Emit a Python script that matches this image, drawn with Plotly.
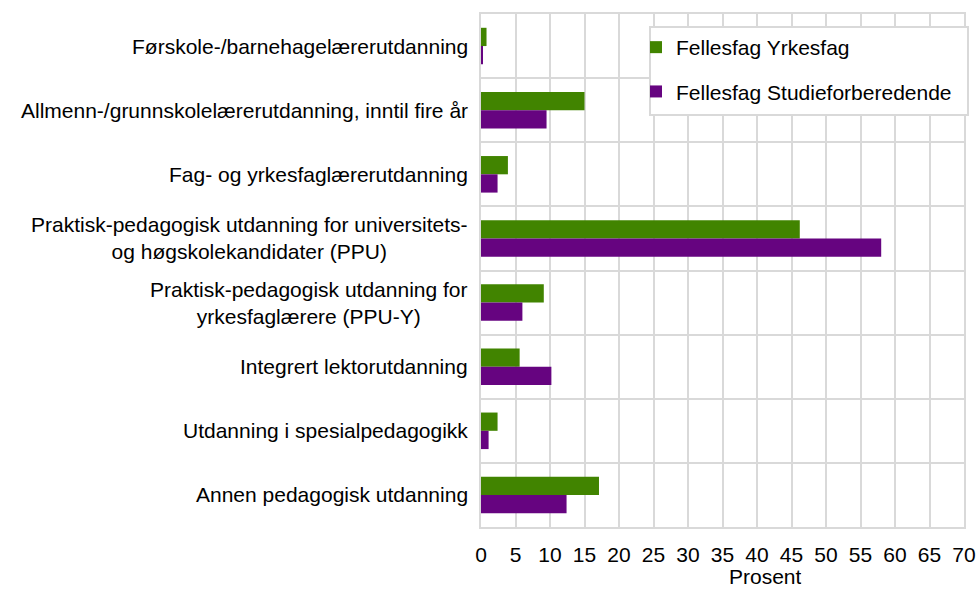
import plotly.graph_objects as go

categories = [
    "Førskole-/barnehagelærerutdanning",
    "Allmenn-/grunnskolelærerutdanning, inntil fire år",
    "Fag- og yrkesfaglærerutdanning",
    "Praktisk-pedagogisk utdanning for universitets-<br>og høgskolekandidater (PPU)",
    "Praktisk-pedagogisk utdanning for<br>yrkesfaglærere (PPU-Y)",
    "Integrert lektorutdanning",
    "Utdanning i spesialpedagogikk",
    "Annen pedagogisk utdanning",
]
yrkesfag = [0.8, 15.0, 3.9, 46.2, 9.1, 5.6, 2.4, 17.1]
studie = [0.2, 9.5, 2.4, 58.0, 6.0, 10.2, 1.1, 12.4]
x_ticks = list(range(0, 75, 5))

FONT = "Liberation Sans, Arial, sans-serif"
GRID = "#d9d9d9"
FS = 21

W, H = 979, 589
L, R, T, B = 481, 964, 14, 527
pw, ph = R - L, B - T


def px_x(v):
    return (v - L) / pw


def px_y(v):
    return (B - v) / ph


fig = go.Figure()
fig.add_trace(go.Bar(y=list(range(len(categories))), x=yrkesfag, orientation="h",
                     name="Fellesfag Yrkesfag", marker=dict(color="#418400", line=dict(width=0)),
                     legendgroup="a"))
fig.add_trace(go.Bar(y=list(range(len(categories))), x=studie, orientation="h",
                     name="Fellesfag Studieforberedende", marker=dict(color="#660480", line=dict(width=0)),
                     legendgroup="b"))

for i, c in enumerate(categories):
    fig.add_annotation(x=0, y=i, xref="paper", yref="y", text=c, showarrow=False,
                       xanchor="right", yanchor="middle", align="center", xshift=-11,
                       font=dict(family=FONT, size=FS, color="#000000"))

fig.add_annotation(x=px_x(765), y=px_y(588), xref="paper", yref="paper", text="Prosent",
                   showarrow=False, xanchor="center", yanchor="bottom", height=20, valign="middle",
                   font=dict(family=FONT, size=FS, color="#000000"))

# legend frame
fig.add_shape(type="rect", xref="paper", yref="paper",
              x0=px_x(650), x1=px_x(968), y0=px_y(115), y1=px_y(27),
              fillcolor="white", line=dict(color=GRID, width=2), layer="above")

fig.update_layout(
    width=W, height=H,
    margin=dict(l=L, r=W - R, t=T, b=H - B, autoexpand=False),
    paper_bgcolor="white", plot_bgcolor="white",
    barmode="group", bargap=0.43, bargroupgap=0,
    font=dict(family=FONT, size=FS, color="#000000"),
    showlegend=True,
    legend=dict(x=px_x(636), y=px_y(27), xanchor="left", yanchor="top",
                bgcolor="rgba(0,0,0,0)", borderwidth=0,
                font=dict(family=FONT, size=FS, color="#000000"),
                traceorder="grouped", tracegroupgap=14),
    xaxis=dict(range=[0, 70], tickvals=x_ticks, ticktext=[str(v) for v in x_ticks],
               showgrid=True, gridcolor=GRID, gridwidth=2, zeroline=False,
               showline=True, linecolor=GRID, linewidth=2, mirror=True,
               ticks="", ticklabelstandoff=8,
               tickfont=dict(family=FONT, size=FS, color="#000000")),
    yaxis=dict(type="linear", range=[7.5, -0.5], tickvals=[i - 0.5 for i in range(len(categories) + 1)],
               showticklabels=False, showgrid=True, gridcolor=GRID, gridwidth=2, zeroline=False,
               showline=True, linecolor=GRID, linewidth=2, mirror=True, ticks=""),
)

fig.write_html("out.html", config={"displayModeBar": False},
               post_script="document.body.style.margin='0';document.body.style.padding='0';")
